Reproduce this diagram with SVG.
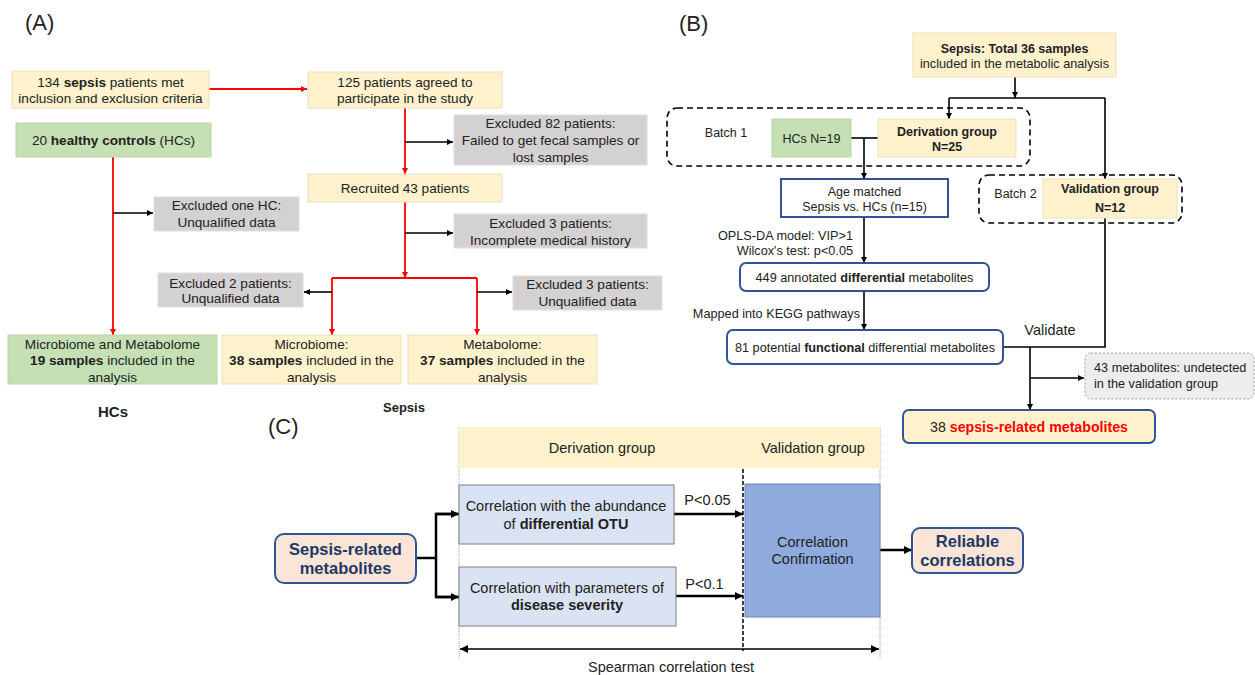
<svg xmlns="http://www.w3.org/2000/svg" width="1255" height="675" viewBox="0 0 1255 675">
<defs>
<marker id="aR" markerUnits="userSpaceOnUse" markerWidth="7" markerHeight="6" refX="6" refY="3" orient="auto"><path d="M0,0 L6,3 L0,6 z" fill="#FF0000"/></marker>
<marker id="aK" markerUnits="userSpaceOnUse" markerWidth="7" markerHeight="6" refX="6" refY="3" orient="auto"><path d="M0,0 L6,3 L0,6 z" fill="#000"/></marker>
<marker id="aK2" markerUnits="userSpaceOnUse" markerWidth="9" markerHeight="8" refX="8" refY="4" orient="auto-start-reverse"><path d="M0,0 L8,4 L0,8 z" fill="#000"/></marker>
</defs>
<style>
text{font-family:"Liberation Sans",Arial,sans-serif;fill:#222;}
.t13{font-size:13.6px;text-anchor:middle;}
.t14{font-size:14.5px;text-anchor:middle;}
.t12{font-size:12.5px;text-anchor:middle;}
.s12{font-size:12.7px;}
.b{font-weight:bold;}
.yel{fill:#FFF2CC;stroke:#EDE0B8;stroke-width:1;}
.grn{fill:#C5E0B4;stroke:#B9D6A7;stroke-width:1;}
.gry{fill:#D3D1D1;stroke:#E0DEDE;stroke-width:1;}
.blu{fill:#fff;stroke:#2F5597;stroke-width:2;}
.red{stroke:#FF0000;stroke-width:1.8;fill:none;}
.blk{stroke:#000;stroke-width:1.6;fill:none;}
.blk2{stroke:#000;stroke-width:2.5;fill:none;}
.dash{fill:none;stroke:#000;stroke-width:1.6;stroke-dasharray:6,4;}
.lt{fill:#DAE3F3;stroke:#7F7F7F;stroke-width:1;}
.pch{fill:#FBE5D6;stroke:#2F5597;stroke-width:2;}
.nv{fill:#1F3864;font-weight:bold;font-size:16.5px;text-anchor:middle;}
</style>

<!-- Panel labels -->
<text x="25" y="30" style="font-size:22px">(A)</text>
<text x="679" y="31" style="font-size:22px">(B)</text>
<text x="268" y="434" style="font-size:22px">(C)</text>

<!-- Connectors -->
<g id="connectors">
  <!-- Panel A -->
  <line class="red" x1="209" y1="89" x2="307" y2="89" marker-end="url(#aR)"/>
  <line class="red" x1="113" y1="157" x2="113" y2="335" marker-end="url(#aR)"/>
  <line class="blk" x1="113" y1="213" x2="153" y2="213" marker-end="url(#aK)"/>
  <line class="red" x1="405" y1="108" x2="405" y2="174" marker-end="url(#aR)"/>
  <line class="blk" x1="405" y1="142" x2="453" y2="142" marker-end="url(#aK)"/>
  <line class="red" x1="405" y1="202" x2="405" y2="278" marker-end="url(#aR)"/>
  <line class="blk" x1="405" y1="233" x2="453" y2="233" marker-end="url(#aK)"/>
  <polyline class="red" points="332,278 477,278"/>
  <line class="red" x1="332" y1="278" x2="332" y2="335" marker-end="url(#aR)"/>
  <line class="red" x1="477" y1="278" x2="477" y2="335" marker-end="url(#aR)"/>
  <line class="blk" x1="332" y1="292" x2="304" y2="292" marker-end="url(#aK)"/>
  <line class="blk" x1="477" y1="292" x2="512" y2="292" marker-end="url(#aK)"/>
  <!-- Panel B -->
  <line class="blk" x1="1015" y1="77" x2="1015" y2="98" marker-end="url(#aK)"/>
  <polyline class="blk" points="949,98 1105,98"/>
  <line class="blk" x1="949" y1="98" x2="949" y2="119" marker-end="url(#aK)"/>
  <line class="blk" x1="1105" y1="98" x2="1105" y2="179" marker-end="url(#aK)"/>
  <line class="blk" x1="851" y1="138" x2="878" y2="138"/>
  <line class="blk" x1="864" y1="138" x2="864" y2="179" marker-end="url(#aK)"/>
  <line class="blk" x1="864" y1="217" x2="864" y2="263" marker-end="url(#aK)"/>
  <line class="blk" x1="864" y1="291" x2="864" y2="330" marker-end="url(#aK)"/>
  <polyline class="blk" points="1105,218 1105,347 1003,347"/>
  <line class="blk" x1="1030" y1="347" x2="1030" y2="410" marker-end="url(#aK)"/>
  <line class="blk" x1="1030" y1="378" x2="1084" y2="378" marker-end="url(#aK)"/>
  <!-- Panel C -->
  <line x1="459" y1="427" x2="459" y2="659" stroke="#8a8a8a" stroke-width="0.8" stroke-dasharray="1,1"/>
  <line x1="880" y1="427" x2="880" y2="659" stroke="#8a8a8a" stroke-width="0.8" stroke-dasharray="1,1"/>
  <line x1="743" y1="427" x2="743" y2="651" stroke="#000" stroke-width="1.5" stroke-dasharray="4,2"/>
  <polyline class="blk2" points="416,558 436,558"/>
  <polyline class="blk2" points="458,514 436,514 436,597 458,597"/>
  <line class="blk2" x1="436" y1="514" x2="459" y2="514" marker-end="url(#aK2)"/>
  <line class="blk2" x1="436" y1="597" x2="459" y2="597" marker-end="url(#aK2)"/>
  <line class="blk2" x1="674" y1="514" x2="743" y2="514" marker-end="url(#aK2)"/>
  <line class="blk2" x1="676" y1="596" x2="743" y2="596" marker-end="url(#aK2)"/>
  <line class="blk2" x1="880" y1="550" x2="912" y2="550" marker-end="url(#aK2)"/>
  <line class="blk" x1="460" y1="649" x2="879" y2="649" marker-start="url(#aK2)" marker-end="url(#aK2)"/>
</g>

<!-- Panel A nodes -->
<g id="a-sepsis134">
  <rect class="yel" x="12" y="71" width="197" height="37"/>
  <text class="t13" x="110.5" y="87">134 <tspan class="b">sepsis</tspan> patients met</text>
  <text class="t13" x="110.5" y="103">inclusion and exclusion criteria</text>
</g>
<g id="a-agreed125">
  <rect class="yel" x="308" y="72" width="194" height="36"/>
  <text class="t13" x="405" y="87">125 patients agreed to</text>
  <text class="t13" x="405" y="103">participate in the study</text>
</g>
<g id="a-hc20">
  <rect class="grn" x="16" y="123" width="195" height="34"/>
  <text class="t13" x="113.5" y="144.5">20 <tspan class="b">healthy controls</tspan> (HCs)</text>
</g>
<g id="a-exc-hc">
  <rect class="gry" x="154" y="197" width="145" height="34"/>
  <text class="t13" x="226.5" y="209.5">Excluded one HC:</text>
  <text class="t13" x="226.5" y="226.5">Unqualified data</text>
</g>
<g id="a-exc82">
  <rect class="gry" x="454" y="115" width="193" height="50"/>
  <text class="t13" x="550.5" y="127.5">Excluded 82 patients:</text>
  <text class="t13" x="550.5" y="144.5">Failed to get fecal samples or</text>
  <text class="t13" x="550.5" y="161.5">lost samples</text>
</g>
<g id="a-recruited43">
  <rect class="yel" x="308" y="174" width="194" height="28"/>
  <text class="t13" x="405" y="192.5">Recruited 43 patients</text>
</g>
<g id="a-exc3a">
  <rect class="gry" x="454" y="214" width="193" height="34"/>
  <text class="t13" x="550.5" y="227.5">Excluded 3 patients:</text>
  <text class="t13" x="550.5" y="244.5">Incomplete medical history</text>
</g>
<g id="a-exc2">
  <rect class="gry" x="158" y="273" width="145" height="34"/>
  <text class="t13" x="230.5" y="287.5">Excluded 2 patients:</text>
  <text class="t13" x="230.5" y="302.5">Unqualified data</text>
</g>
<g id="a-exc3b">
  <rect class="gry" x="513" y="276" width="149" height="34"/>
  <text class="t13" x="587.5" y="288.5">Excluded 3 patients:</text>
  <text class="t13" x="587.5" y="305.5">Unqualified data</text>
</g>
<g id="a-hc19">
  <rect class="grn" x="8" y="335" width="209" height="49"/>
  <text class="t13" x="112.5" y="348.5">Microbiome  and Metabolome</text>
  <text class="t13" x="112.5" y="364.5"><tspan class="b">19 samples</tspan> included in the</text>
  <text class="t13" x="112.5" y="381.5">analysis</text>
</g>
<g id="a-micro38">
  <rect class="yel" x="222" y="335" width="179" height="49"/>
  <text class="t13" x="311.5" y="348.5">Microbiome:</text>
  <text class="t13" x="311.5" y="364.5"><tspan class="b">38 samples</tspan> included in the</text>
  <text class="t13" x="311.5" y="381.5">analysis</text>
</g>
<g id="a-meta37">
  <rect class="yel" x="408" y="335" width="189" height="49"/>
  <text class="t13" x="502.5" y="348.5">Metabolome:</text>
  <text class="t13" x="502.5" y="364.5"><tspan class="b">37 samples</tspan> included in the</text>
  <text class="t13" x="502.5" y="381.5">analysis</text>
</g>
<text class="b" x="113" y="417" style="font-size:15px;text-anchor:middle">HCs</text>
<text class="b" x="404" y="411.5" style="font-size:13px;text-anchor:middle">Sepsis</text>

<!-- Panel B nodes -->
<g id="b-total36">
  <rect class="yel" x="913" y="33" width="203" height="44"/>
  <text class="t12 b" x="1014.5" y="52.5">Sepsis: Total 36 samples</text>
  <text class="t12" x="1014.5" y="67.5" style="font-size:12.7px">included in the metabolic analysis</text>
</g>
<g id="b-batch1">
  <rect class="dash" x="667" y="108" width="363" height="58" rx="10"/>
  <text class="t12" x="726" y="136.5">Batch 1</text>
</g>
<g id="b-hcs19">
  <rect class="grn" x="772" y="119" width="79" height="38"/>
  <text class="t12" x="811.5" y="142.5">HCs N=19</text>
</g>
<g id="b-derivation">
  <rect class="yel" x="878" y="119" width="138" height="38"/>
  <text class="t12 b" x="947" y="135.5">Derivation group</text>
  <text class="t12 b" x="947" y="150.5">N=25</text>
</g>
<g id="b-batch2">
  <rect class="dash" x="979" y="175" width="203" height="48" rx="10"/>
  <text class="t12" x="1015.5" y="197.5">Batch 2</text>
</g>
<g id="b-validation">
  <rect class="yel" x="1043" y="179" width="134" height="39"/>
  <text class="t12 b" x="1110" y="192.5">Validation  group</text>
  <text class="t12 b" x="1110" y="211.5">N=12</text>
</g>
<g id="b-age">
  <rect class="blu" x="781" y="179" width="167" height="38"/>
  <text class="t12" x="864.5" y="195.5">Age matched</text>
  <text class="t12" x="864.5" y="210.5">Sepsis vs. HCs (n=15)</text>
</g>
<text class="s12" x="853" y="239.5" style="text-anchor:end">OPLS-DA model:  VIP&gt;1</text>
<text class="s12" x="853" y="254.5" style="text-anchor:end">Wilcox's test: p&lt;0.05</text>
<g id="b-449">
  <rect class="blu" x="740" y="263" width="249" height="28" rx="6"/>
  <text class="s12" x="864.5" y="281.5" style="text-anchor:middle">449 annotated <tspan class="b">differential</tspan>  metabolites</text>
</g>
<text class="s12" x="860" y="317.5" style="text-anchor:end">Mapped  into KEGG pathways</text>
<g id="b-81">
  <rect class="blu" x="727" y="330" width="276" height="34" rx="6"/>
  <text class="s12" x="865" y="351.5" style="text-anchor:middle">81 potential <tspan class="b">functional</tspan> differential metabolites</text>
</g>
<text x="1050" y="334.5" style="font-size:14.5px;text-anchor:middle">Validate</text>
<g id="b-undetected">
  <rect x="1085" y="353" width="169" height="46" rx="6" fill="#EDEDED" stroke="#9A9A9A" stroke-width="1" stroke-dasharray="2,2"/>
  <text class="s12" x="1094" y="371.5">43 metabolites:  undetected</text>
  <text class="s12" x="1094" y="387.5">in the validation group</text>
</g>
<g id="b-38">
  <rect x="903" y="410" width="252" height="33" rx="6" fill="#FFF2CC" stroke="#2F5597" stroke-width="2"/>
  <text x="1029" y="432" style="font-size:14.2px;text-anchor:middle">38 <tspan style="font-weight:bold;fill:#FF0000">sepsis-related metabolites</tspan></text>
</g>

<!-- Panel C nodes -->
<g id="c-header">
  <rect x="459" y="427" width="421" height="41" fill="#FFF2CC"/>
  <text class="t14" x="602" y="453">Derivation group</text>
  <text class="t14" x="813" y="453">Validation group</text>
</g>
<g id="c-otu">
  <rect class="lt" x="459" y="485" width="215" height="59"/>
  <text class="t14" x="566" y="511">Correlation with the abundance</text>
  <text class="t14" x="566" y="529">of <tspan class="b">differential OTU</tspan></text>
</g>
<g id="c-severity">
  <rect class="lt" x="459" y="567" width="217" height="59"/>
  <text class="t14" x="567" y="593">Correlation with parameters of</text>
  <text class="t14 b" x="567" y="610">disease severity</text>
</g>
<text class="t14" x="707.5" y="505">P&lt;0.05</text>
<text class="t14" x="704.5" y="589">P&lt;0.1</text>
<g id="c-confirm">
  <rect x="745" y="484" width="135" height="133" fill="#8FAADC" stroke="#6F87B5" stroke-width="1"/>
  <text class="t14" x="812.5" y="547">Correlation</text>
  <text class="t14" x="812.5" y="564">Confirmation</text>
</g>
<g id="c-reliable">
  <rect class="pch" x="912" y="528" width="111" height="45" rx="8"/>
  <text class="nv" x="967.5" y="547">Reliable</text>
  <text class="nv" x="967.5" y="566">correlations</text>
</g>
<g id="c-sepsis">
  <rect class="pch" x="275" y="534" width="141" height="49" rx="9"/>
  <text class="nv" x="345.5" y="555">Sepsis-related</text>
  <text class="nv" x="345.5" y="574">metabolites</text>
</g>
<text class="t14" x="671" y="672">Spearman correlation test</text>
</svg>
